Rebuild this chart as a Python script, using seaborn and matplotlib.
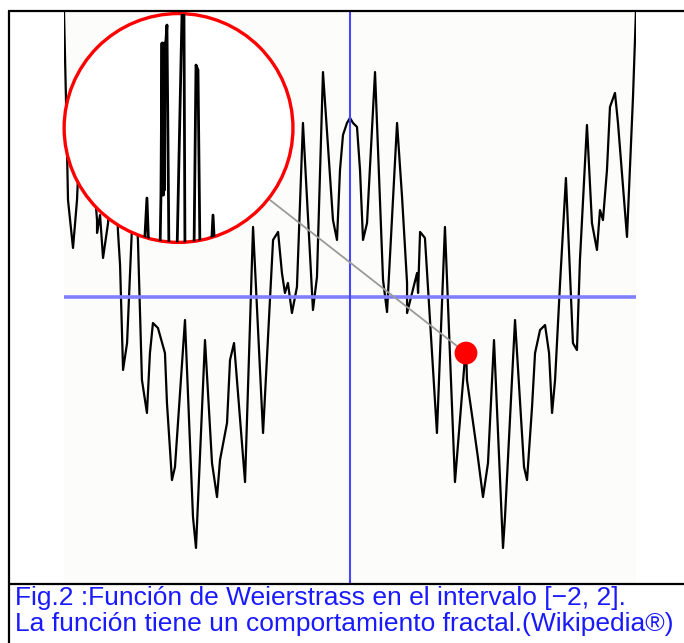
import numpy as np
import pandas as pd
import seaborn as sns
import matplotlib.pyplot as plt
from matplotlib.patches import Circle
from matplotlib.lines import Line2D

# Weierstrass curve, values (x in [-2, 2])
wx = [-2.000, -1.986, -1.972, -1.937, -1.909, -1.888, -1.874, -1.853, -1.818, -1.797,
      -1.769, -1.769, -1.748, -1.727, -1.692, -1.657, -1.622, -1.608, -1.587, -1.559,
      -1.510, -1.483, -1.455, -1.420, -1.399, -1.378, -1.343, -1.294, -1.280, -1.245,
      -1.224, -1.154, -1.098, -1.077, -1.014, -0.965, -0.930, -0.909, -0.860, -0.839,
      -0.811, -0.734, -0.678, -0.608, -0.538, -0.503, -0.476, -0.455, -0.434, -0.406,
      -0.371, -0.329, -0.259, -0.231, -0.189, -0.119, -0.091, -0.070, -0.049, -0.021,
      0.000, 0.021, 0.049, 0.070, 0.091, 0.119, 0.175, 0.231, 0.259, 0.329,
      0.364, 0.399, 0.399, 0.434, 0.469, 0.476, 0.490, 0.524, 0.608, 0.664,
      0.734, 0.811, 0.818, 0.860, 0.895, 0.930, 0.965, 1.007, 1.070, 1.084,
      1.154, 1.217, 1.238, 1.273, 1.294, 1.329, 1.364, 1.392, 1.413, 1.434,
      1.469, 1.510, 1.559, 1.587, 1.608, 1.657, 1.692, 1.727, 1.748, 1.769,
      1.797, 1.818, 1.853, 1.874, 1.937, 1.979, 2.000]
wy = [1.993, 1.378, 0.678, 0.343, 0.678, 1.168, 1.308, 1.427, 1.329, 0.888,
      0.538, 0.448, 0.573, 0.273, 0.517, 1.203, 0.448, 0.224, -0.510, -0.322,
      0.832, 0.399, -0.580, -0.811, -0.392, -0.182, -0.217, -0.392, -0.741, -1.280,
      -1.189, -0.161, -1.538, -1.755, -0.301, -1.161, -1.399, -1.140, -0.881, -0.441,
      -0.322, -1.294, 0.490, -0.951, 0.399, 0.455, 0.168, 0.028, 0.098, -0.112,
      0.070, 1.217, -0.091, 0.140, 1.573, 0.538, 0.399, 0.888, 1.133, 1.217,
      1.252, 1.217, 1.189, 0.888, 0.399, 0.517, 1.573, 0.119, -0.105, 1.217,
      0.699, 0.098, -0.112, 0.028, 0.168, 0.028, 0.455, 0.413, -0.951, 0.490,
      -1.294, -0.336, -0.580, -0.874, -1.126, -1.399, -1.161, -0.301, -1.755, -1.538,
      -0.161, -1.189, -1.280, -0.769, -0.392, -0.231, -0.196, -0.392, -0.811, -0.580,
      0.098, 0.832, -0.322, -0.371, 0.259, 1.203, 0.517, 0.329, 0.608, 0.538,
      0.888, 1.329, 1.427, 1.217, 0.420, 1.399, 2.007]

# magnified detail drawn inside the lens
mx = [-1.441, -1.420, -1.406, -1.329, -1.322, -1.315, -1.311, -1.308, -1.304, -1.301,
      -1.297, -1.294, -1.287, -1.280, -1.266, -1.210, -1.175, -1.161, -1.154, -1.091,
      -1.077, -1.063, -1.049, -0.972, -0.958, -0.944]
my = [0.294, 0.692, 0.294, 0.294, 0.713, 1.776, 0.713, 1.776, 0.713, 1.762,
      0.748, 1.762, 1.797, 1.902, 0.294, 0.294, 1.972, 1.972, 0.294, 0.294,
      1.622, 1.587, 0.294, 0.294, 0.573, 0.294]

lens_center = (-1.199, 1.182)
lens_radius = 0.80
pointer_x = [-0.559, 0.811]
pointer_y = [0.678, -0.392]
dot_x = [0.811]
dot_y = [-0.392]

caption = ["Fig.2 :Función de Weierstrass en el intervalo [\u22122, 2].",
           "La función tiene un comportamiento fractal.(Wikipedia®)"]

sns.set_theme(style='white')
plt.rcParams['font.family'] = ['Liberation Sans', 'DejaVu Sans']

W, H = 684, 643
fig = plt.figure(figsize=(W / 100, H / 100), dpi=100)
fig.patch.set_facecolor('white')
ax = fig.add_axes([64 / W, 60 / H, 572 / W, 571 / H])
ax.set_facecolor('#fcfcfa')

curve = pd.DataFrame({'x': wx, 'y': wy})
sns.lineplot(data=curve, x='x', y='y', sort=False, estimator=None,
             color='black', lw=1.6, ax=ax, zorder=2)

ax.axhline(0, color='#8080ff', lw=2.6, zorder=3)
ax.axvline(0, color='#4646ff', lw=1.5, zorder=3, clip_on=False)

lens = Circle(lens_center, lens_radius, facecolor='white', edgecolor='#ff0000',
              lw=2.4, zorder=5, clip_on=False)
ax.add_patch(lens)

sns.lineplot(x=mx, y=my, sort=False, estimator=None, color='black', lw=2.0,
             ax=ax, zorder=6)
ax.lines[-1].set_clip_path(lens)

sns.lineplot(x=pointer_x, y=pointer_y, sort=False, estimator=None,
             color='#9a9a9a', lw=1.3, ax=ax, zorder=4)
sns.scatterplot(x=dot_x, y=dot_y, s=270, color='#ff0000', edgecolor='none',
                ax=ax, zorder=7)

ax.set_xlim(-2, 2)
ax.set_ylim(-2.0, 1.993)
ax.set_xticks([])
ax.set_yticks([])
ax.set_xlabel('')
ax.set_ylabel('')
for s in ax.spines.values():
    s.set_visible(False)

# outer frame and separator
frame_kw = dict(color='black', lw=1.6, transform=fig.transFigure)
fig.add_artist(Line2D([9 / W, 9 / W], [0, 1 - 11 / H], **frame_kw))
fig.add_artist(Line2D([9 / W, 1], [1 - 11 / H, 1 - 11 / H], **frame_kw))
fig.add_artist(Line2D([9 / W, 1], [1 - 584 / H, 1 - 584 / H], **frame_kw))

fig.text(15 / W, 1 - 605 / H, caption[0], color='#1a1aff', fontsize=19, va='baseline')
fig.text(15 / W, 1 - 631 / H, caption[1], color='#1a1aff', fontsize=19, va='baseline')

fig.savefig('out.png', dpi=100)
